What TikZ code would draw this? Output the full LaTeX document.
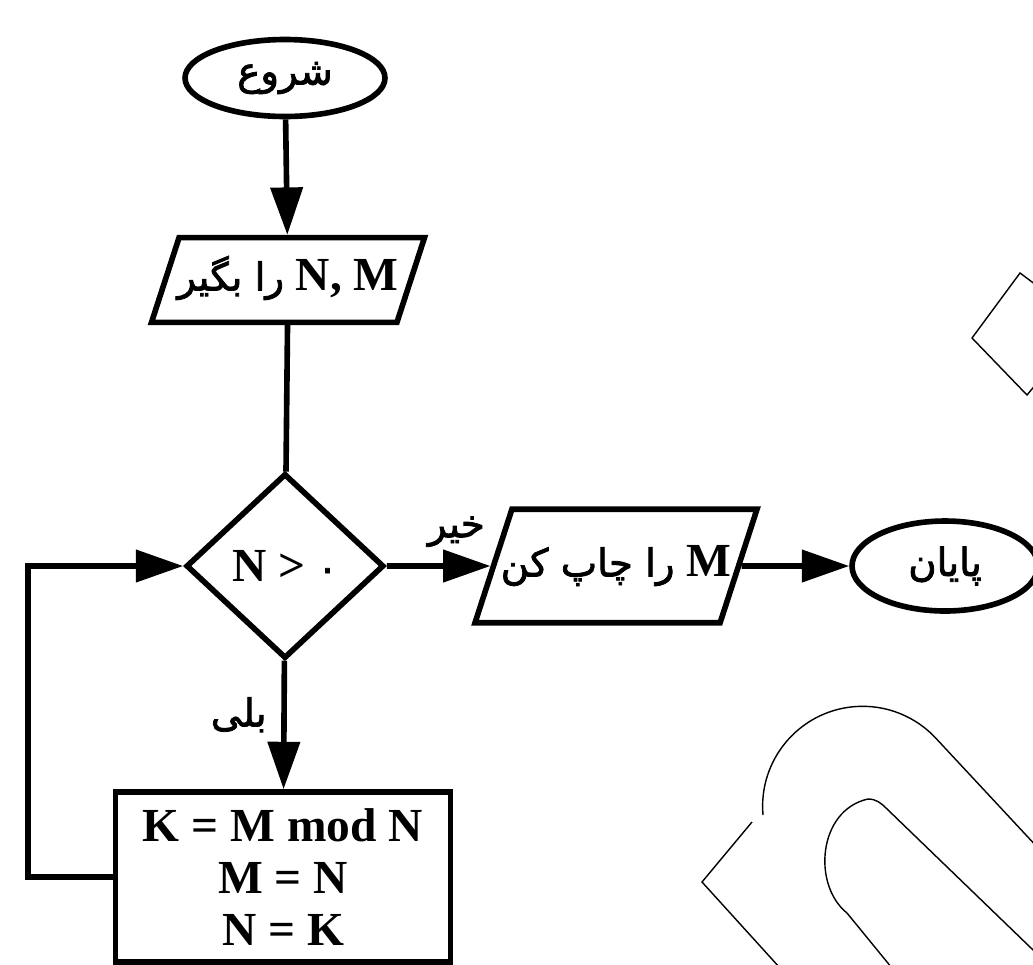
\documentclass[tikz,border=0pt]{standalone}
\usepackage{fontspec}
\setmainfont{Liberation Serif}
\newfontfamily\farsi[Script=Arabic,FakeBold=2]{DejaVu Sans}
\TeXXeTstate=1
\newcommand\fatext[1]{{\farsi\mdseries\fontsize{22}{26}\selectfont #1}}
\usepackage{tikz}
\usetikzlibrary{arrows.meta,shapes.geometric}

\begin{document}
\begin{tikzpicture}[x=0.02cm, y=-0.02cm, line width=3.2pt,
  every node/.style={font=\bfseries\fontsize{27}{29.5}\selectfont},
  term/.style={ellipse, draw, inner sep=0pt},
  inout/.style={trapezium, draw, trapezium left angle=72, trapezium right angle=108,
    trapezium stretches body=true, inner xsep=-8pt, text height=20pt, text depth=8pt},
  cond/.style={diamond, draw, inner sep=0pt},
  proc/.style={rectangle, draw, inner sep=0pt, align=center},
  flow/.style={-{Triangle[length=27pt,width=18pt]}},
  lbl/.style={font=\farsi\mdseries\fontsize{22}{26}\selectfont},
  wmark/.style={line width=0.8pt}]
  \useasboundingbox (0,0) rectangle (1033,964);
  \clip (0,0) rectangle (1033,964);
  \node[term, minimum width=4cm, minimum height=1.54cm] (start) at (285,78) {\fatext{شروع}};
  \node[inout, minimum width=5.46cm, inner ysep=10.1pt] (read) at (288,280)
    {\beginR\beginL N, M\endL{} \fatext{را بگیر}\endR};
  \node[cond, minimum width=3.96cm, minimum height=3.7cm] (test) at (285,566) {N > \fatext{۰}};
  \node[inout, minimum width=5.64cm, inner ysep=18.3pt] (print) at (616,566)
    {\beginR\beginL M\endL{} \fatext{را چاپ کن}\endR};
  \node[term, minimum width=3.72cm, minimum height=1.8cm] (stop) at (945,566) {\fatext{پایان}};
  \node[proc, minimum width=6.7cm, minimum height=3.4cm] (calc) at (283,877)
    {K = M mod N\\ M = N\\ N = K};
  \coordinate (back) at (28,877);
  \draw[flow] (start) -- (read);
  \draw (read) -- (test);
  \draw[flow] (test) -- node[lbl, above=6pt, pos=0.67] {خیر} (print);
  \draw[flow] (print) -- (stop);
  \draw[flow] (test) -- node[lbl, left=5pt, pos=0.42] {بلی} (calc);
  \draw[flow] (calc.west) -- (back) |- (test.west);
  % faint shapes on the right
  \draw[wmark] (972,338) -- (1020,273) -- (1087,323) -- (1027,395) -- cycle;
  \draw[wmark] (790,979) -- (702,882) -- (752,822);
  \draw[wmark] (763,815) arc[start angle=175, end angle=318, radius=100] -- (1080,893);
  \draw[wmark] (905,984) -- (847,913) .. controls (812,885) and (818,810) .. (868,799)
    .. controls (876,799) and (881,803) .. (886,808) -- (1060,976);
\end{tikzpicture}
\end{document}
